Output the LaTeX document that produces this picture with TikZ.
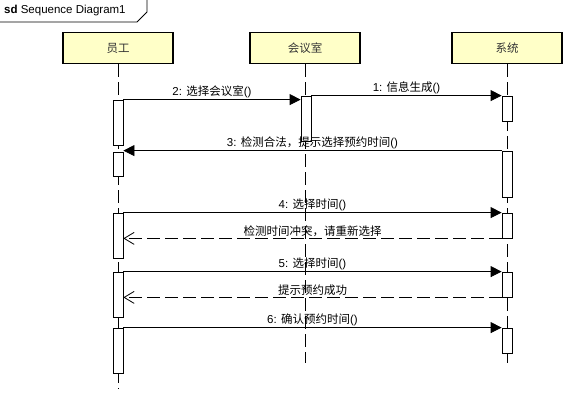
\documentclass[tikz,border=0pt]{standalone}
\usepackage{fontspec}
\setmainfont{Liberation Sans}
\newfontfamily\cjk{Noto Sans CJK SC}
\newcommand\zh[1]{{\cjk #1}}
\usetikzlibrary{arrows.meta,calc}
\definecolor{headfill}{RGB}{255,255,200}
\begin{document}
\begin{tikzpicture}[x=1pt,y=-1pt,
  head/.style={draw=black,line width=1.6pt,fill=headfill,minimum width=110pt,minimum height=31pt,inner sep=0pt,font=\cjk\fontsize{11.5}{12}\selectfont,text=black!80},
  act/.style={draw=black,line width=0.8pt,fill=white,minimum width=10pt,inner sep=0pt},
  life/.style={draw=black,line width=0.8pt,dash pattern=on 13pt off 5pt},
  msg/.style={draw=black,line width=0.8pt,-{Triangle[length=11pt,width=11pt]}},
  ret/.style={draw=black,line width=0.8pt,dash pattern=on 13pt off 5pt,-{Straight Barb[length=10pt,width=12pt]}},
  lbl/.style={above,inner sep=1.5pt,font=\fontsize{11.5}{12}\selectfont,text=black}
]
\useasboundingbox (0,0) rectangle (572,401);
% frame label
\draw[line width=0.8pt] (0,22) -- (137,22) -- (147,12) -- (147,0);
\node[anchor=west,inner sep=0pt,font=\fontsize{11.5}{12}\selectfont] (title) at (4,11) {\textbf{sd} Sequence Diagram1};
% heads
\node[head] (h1) at (118,48) {员工};
\node[head] (h2) at (305,48) {会议室};
\node[head] (h3) at (507,48) {系统};
% lifeline ends
\coordinate (end1) at (118,389);
\coordinate (end2) at (305,363);
\coordinate (end3) at (507,363);
\draw[life] (h1.south) -- (end1);
\draw[life] (h2.south) -- (end2);
\draw[life] (h3.south) -- (end3);
% activations
\node[act,minimum height=45pt] (e1) at (118,122.5) {};
\node[act,minimum height=24pt] (e2) at (118,164) {};
\node[act,minimum height=45pt] (e3) at (118,235.5) {};
\node[act,minimum height=45pt] (e4) at (118,294.5) {};
\node[act,minimum height=45pt] (e5) at (118,350.5) {};
\node[act,minimum height=45pt] (r1) at (306,118.5) {};
\node[act,minimum height=25pt] (s1) at (507,108.5) {};
\node[act,minimum height=46pt] (s2) at (507,174) {};
\node[act,minimum height=25pt] (s3) at (507,225.5) {};
\node[act,minimum height=25pt] (s4) at (507,284.5) {};
\node[act,minimum height=25pt] (s5) at (507,340.5) {};
% messages
\draw[msg] (r1.north east) -- node[lbl] {1: \zh{信息生成}()} (s1.north west);
\draw[msg] (e1.north east) -- node[lbl] {2: \zh{选择会议室}()} (r1.west |- e1.north east);
\draw[msg] (s2.north west) -- node[lbl] {3: \zh{检测合法，提示选择预约时间}()} (e2.east |- s2.north west);
\draw[msg] (e3.north east) -- node[lbl] {4: \zh{选择时间}()} (s3.north west);
\draw[ret] (s3.south west) -- node[lbl] {\zh{检测时间冲突，请重新选择}} (e3.east |- s3.south west);
\draw[msg] (e4.north east) -- node[lbl] {5: \zh{选择时间}()} (s4.north west);
\draw[ret] (s4.south west) -- node[lbl] {\zh{提示预约成功}} (e4.east |- s4.south west);
\draw[msg] (e5.north east) -- node[lbl] {6: \zh{确认预约时间}()} (s5.north west);
\end{tikzpicture}
\end{document}
